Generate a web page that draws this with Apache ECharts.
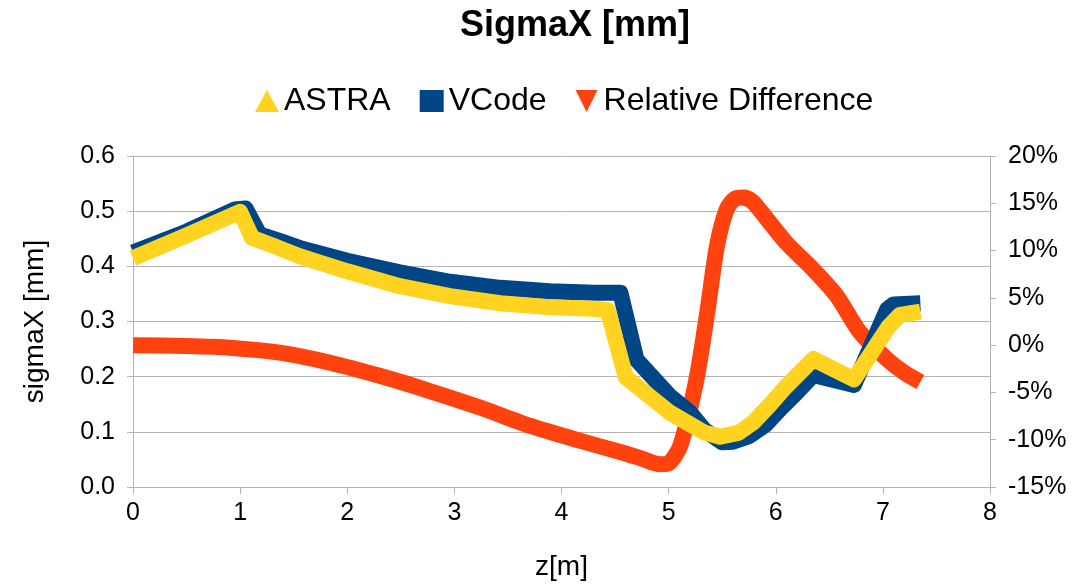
<!DOCTYPE html>
<html>
<head>
<meta charset="utf-8">
<script src="https://cdn.jsdelivr.net/npm/echarts@6/dist/echarts.min.js"></script>
<style>
  html, body { margin: 0; padding: 0; background: #fff; }
  #chart { width: 1075px; height: 586px; }
</style>
</head>
<body>
<div id="chart"></div>
<script>
// Beam size along the line: z [m] vs sigmaX [mm], plus relative difference [%]
const astraZ = [0, 0.5, 1.0, 1.11, 1.3, 1.56, 2.0, 2.49, 2.96, 3.43, 3.89, 4.3, 4.43, 4.60, 5.01, 5.33, 5.48, 5.65, 5.79, 5.95, 6.10, 6.35, 6.73, 7.05, 7.16, 7.35];
const astraSigma = [0.415, 0.456, 0.499, 0.452, 0.438, 0.418, 0.391, 0.364, 0.346, 0.333, 0.326, 0.323, 0.321, 0.199, 0.135, 0.099, 0.091, 0.098, 0.117, 0.150, 0.183, 0.232, 0.195, 0.290, 0.312, 0.318];

const vcodeZ = [0, 0.5, 0.95, 1.05, 1.18, 1.43, 1.56, 2.0, 2.49, 2.96, 3.43, 3.89, 4.3, 4.55, 4.70, 5.01, 5.2, 5.33, 5.5, 5.6, 5.75, 5.9, 6.05, 6.2, 6.35, 6.73, 7.04, 7.10, 7.35];
const vcodeSigma = [0.425, 0.463, 0.503, 0.505, 0.458, 0.442, 0.433, 0.410, 0.389, 0.372, 0.361, 0.355, 0.352, 0.352, 0.231, 0.165, 0.135, 0.104, 0.081, 0.082, 0.092, 0.112, 0.143, 0.172, 0.203, 0.185, 0.322, 0.331, 0.333];

const diffZ = [0, 0.5, 0.9, 1.37, 1.84, 2.31, 2.77, 3.24, 3.71, 4.17, 4.55, 4.75, 4.92, 5.0, 5.11, 5.26, 5.36, 5.45, 5.54, 5.62, 5.70, 5.78, 5.85, 6.10, 6.35, 6.57, 6.79, 7.04, 7.2, 7.35];
const diffPct = [0.0, -0.1, -0.27, -0.8, -1.86, -3.27, -4.85, -6.6, -8.54, -10.1, -11.3, -12.0, -12.6, -12.5, -10.6, -3.6, 3.4, 10.4, 14.3, 15.5, 15.6, 15.2, 14.3, 10.8, 8.0, 5.2, 1.3, -1.5, -2.9, -3.9];

const zip = (xs, ys) => xs.map((x, i) => [x, ys[i]]);

const FONT = '"Liberation Sans", Arial, sans-serif';
const GRID_GREY = '#b3b3b3';

const chart = echarts.init(document.getElementById('chart'), null, { renderer: 'canvas' });

chart.setOption({
  animation: false,
  backgroundColor: '#ffffff',
  title: {
    text: 'SigmaX [mm]',
    left: 455,
    top: 3,
    textStyle: { fontFamily: FONT, fontSize: 36, fontWeight: 'bold', color: '#000' }
  },
  legend: {
    top: 80,
    left: 250,
    itemWidth: 24,
    itemHeight: 22,
    itemGap: 29,
    data: [
      { name: 'ASTRA', icon: 'triangle' },
      { name: 'VCode', icon: 'rect' },
      { name: 'Relative Difference', icon: 'path://M0,0L10,0L5,10Z' }
    ],
    textStyle: { fontFamily: FONT, fontSize: 32, color: '#000' }
  },
  grid: { left: 133, right: 85, top: 156, bottom: 98, containLabel: false },
  xAxis: {
    type: 'value',
    min: 0, max: 8, interval: 1,
    name: 'z[m]',
    nameLocation: 'middle',
    nameGap: 66,
    nameTextStyle: { fontFamily: FONT, fontSize: 28, color: '#000' },
    axisLine: { show: true, onZero: false, lineStyle: { color: GRID_GREY, width: 1 } },
    axisTick: { show: true, length: 7, lineStyle: { color: GRID_GREY } },
    axisLabel: { margin: 14, fontFamily: FONT, fontSize: 25, color: '#000' },
    splitLine: { show: false }
  },
  yAxis: [
    {
      type: 'value',
      min: 0, max: 0.6, interval: 0.1,
      name: 'sigmaX [mm]',
      nameLocation: 'middle',
      nameGap: 84,
      nameTextStyle: { fontFamily: FONT, fontSize: 28, color: '#000' },
      axisLine: { show: true, lineStyle: { color: GRID_GREY, width: 1 } },
      axisTick: { show: true, length: 6, lineStyle: { color: GRID_GREY } },
      axisLabel: { margin: 18, fontFamily: FONT, fontSize: 25, color: '#000', formatter: v => v.toFixed(1) },
      splitLine: { show: true, lineStyle: { color: GRID_GREY, width: 1 } }
    },
    {
      type: 'value',
      min: -15, max: 20, interval: 5,
      position: 'right',
      axisLine: { show: true, lineStyle: { color: GRID_GREY, width: 1 } },
      axisTick: { show: true, length: 6, lineStyle: { color: GRID_GREY } },
      axisLabel: { margin: 18, fontFamily: FONT, fontSize: 25, color: '#000', formatter: '{value}%' },
      splitLine: { show: false }
    }
  ],
  series: [
    {
      name: 'Relative Difference',
      type: 'line',
      yAxisIndex: 1,
      data: zip(diffZ, diffPct),
      smooth: 0.25,
      showSymbol: false,
      color: '#ff420e',
      lineStyle: { width: 16, color: '#ff420e', join: 'round', cap: 'butt' }
    },
    {
      name: 'VCode',
      type: 'line',
      yAxisIndex: 0,
      data: zip(vcodeZ, vcodeSigma),
      showSymbol: false,
      color: '#004586',
      lineStyle: { width: 16, color: '#004586', join: 'round', cap: 'butt' }
    },
    {
      name: 'ASTRA',
      type: 'line',
      yAxisIndex: 0,
      data: zip(astraZ, astraSigma),
      showSymbol: false,
      color: '#ffd320',
      lineStyle: { width: 16, color: '#ffd320', join: 'round', cap: 'butt' }
    }
  ]
});
</script>
</body>
</html>
